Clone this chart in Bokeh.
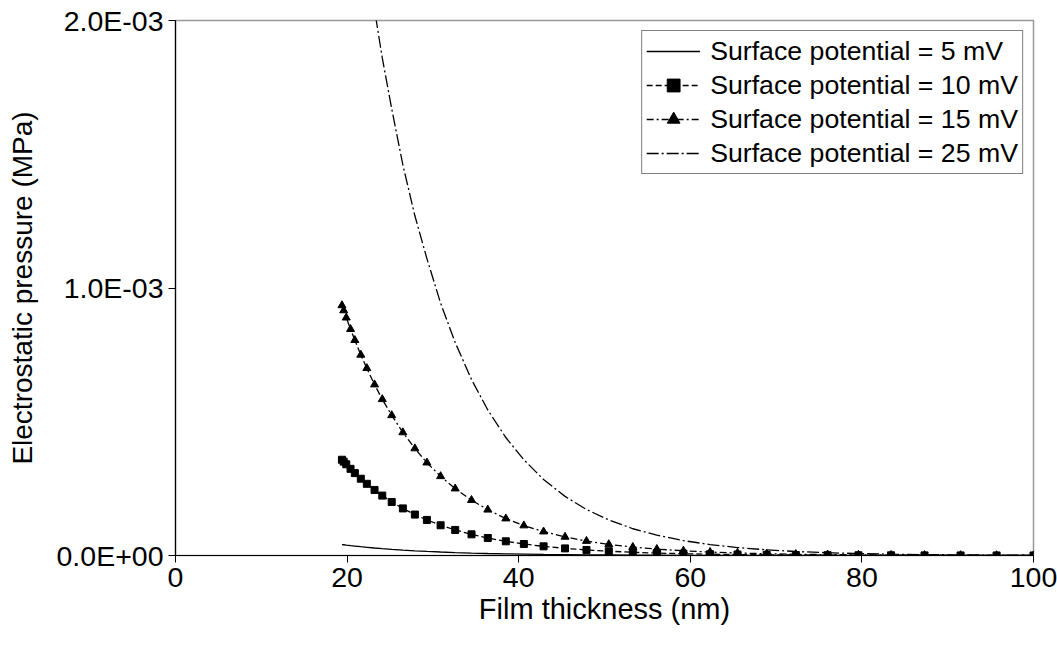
from bokeh.plotting import figure
from bokeh.models import Range1d, FixedTicker, CustomJSTickFormatter, Legend, LegendItem
from bokeh.embed import file_html
from bokeh.resources import INLINE

# ---- data ----
thickness = [19.4, 19.6, 19.9, 20.4, 20.9, 21.6, 22.3, 23.2, 24.1, 25.2, 26.5, 27.9, 29.3,
             30.9, 32.6, 34.5, 36.4, 38.5, 40.6, 42.9, 45.4, 47.9, 50.5, 53.3, 56.1, 59.2,
             62.3, 65.5, 68.9, 72.3, 76.0, 79.6, 83.4, 87.3, 91.5, 95.7, 100.0]

p_5mV = [4.10e-5, 4.02e-5, 3.90e-5, 3.71e-5, 3.53e-5, 3.29e-5, 3.07e-5, 2.80e-5, 2.56e-5,
         2.30e-5, 2.02e-5, 1.75e-5, 1.52e-5, 1.30e-5, 1.10e-5, 9.06e-6, 7.49e-6, 6.07e-6,
         4.92e-6, 3.91e-6, 3.05e-6, 2.37e-6, 1.83e-6, 1.38e-6, 1.05e-6, 7.7e-7, 5.6e-7,
         4.1e-7, 2.9e-7, 2.1e-7, 1.4e-7, 1.0e-7, 7e-8, 5e-8, 3e-8, 2e-8, 1e-8]

p_10mV = [3.58e-4, 3.51e-4, 3.41e-4, 3.24e-4, 3.08e-4, 2.87e-4, 2.68e-4, 2.45e-4, 2.24e-4,
          2.00e-4, 1.76e-4, 1.53e-4, 1.33e-4, 1.13e-4, 9.56e-5, 7.91e-5, 6.54e-5, 5.30e-5,
          4.30e-5, 3.42e-5, 2.66e-5, 2.07e-5, 1.60e-5, 1.21e-5, 9.13e-6, 6.69e-6, 4.90e-6,
          3.58e-6, 2.53e-6, 1.80e-6, 1.25e-6, 8.7e-7, 5.9e-7, 4.0e-7, 2.6e-7, 1.8e-7, 1.1e-7]

p_15mV = [9.35e-4, 9.16e-4, 8.89e-4, 8.46e-4, 8.05e-4, 7.50e-4, 7.00e-4, 6.39e-4, 5.84e-4,
          5.24e-4, 4.60e-4, 4.00e-4, 3.47e-4, 2.96e-4, 2.50e-4, 2.07e-4, 1.71e-4, 1.38e-4,
          1.12e-4, 8.92e-5, 6.95e-5, 5.40e-5, 4.17e-5, 3.15e-5, 2.38e-5, 1.75e-5, 1.28e-5,
          9.35e-6, 6.62e-6, 4.71e-6, 3.26e-6, 2.27e-6, 1.55e-6, 1.06e-6, 6.9e-7, 4.6e-7, 3.0e-7]

p_25mV = [2.98e-3, 2.92e-3, 2.83e-3, 2.70e-3, 2.56e-3, 2.39e-3, 2.23e-3, 2.04e-3, 1.86e-3,
          1.67e-3, 1.46e-3, 1.27e-3, 1.11e-3, 9.43e-4, 7.96e-4, 6.58e-4, 5.44e-4, 4.41e-4,
          3.58e-4, 2.84e-4, 2.21e-4, 1.72e-4, 1.33e-4, 1.00e-4, 7.60e-5, 5.57e-5, 4.08e-5,
          2.98e-5, 2.11e-5, 1.50e-5, 1.04e-5, 7.2e-6, 4.9e-6, 3.4e-6, 2.2e-6, 1.5e-6, 9.5e-7]

series_labels = ["Surface potential = 5 mV", "Surface potential = 10 mV",
                 "Surface potential = 15 mV", "Surface potential = 25 mV"]

x_ticks = [0, 20, 40, 60, 80, 100]
y_ticks = [0.0, 0.001, 0.002]
y_tick_labels = ["0.0E+00", "1.0E-03", "2.0E-03"]

x_title = "Film thickness (nm)"
y_title = "Electrostatic pressure (MPa)"

# ---- figure ----
FONT = "Liberation Sans"

p = figure(width=1057, height=648, output_backend="svg", toolbar_location=None,
           x_range=Range1d(0, 100), y_range=Range1d(0, 0.002),
           frame_width=858, frame_height=535,
           min_border_left=175, min_border_right=24, min_border_top=20, min_border_bottom=93)
p.background_fill_color = "white"
p.border_fill_color = "white"
p.outline_line_color = "#999999"
p.outline_line_width = 1.5
p.grid.visible = False

for ax in (p.xaxis[0], p.yaxis[0]):
    ax.axis_line_color = "black"
    ax.axis_line_width = 1.2
    ax.major_tick_line_color = "black"
    ax.major_tick_out = 7
    ax.major_tick_in = 0
    ax.minor_tick_line_color = None
    ax.major_label_text_font = FONT
    ax.major_label_text_font_size = "28.5px"
    ax.major_label_text_color = "black"
    ax.axis_label_text_font = FONT
    ax.axis_label_text_font_style = "normal"
    ax.axis_label_text_color = "black"

p.xaxis.axis_label_text_font_size = "29px"
p.yaxis.axis_label_text_font_size = "28px"

p.xaxis.ticker = FixedTicker(ticks=x_ticks)
p.yaxis.ticker = FixedTicker(ticks=y_ticks)
p.yaxis.formatter = CustomJSTickFormatter(
    args=dict(tvals=y_ticks, tlabels=y_tick_labels),
    code="const i = tvals.findIndex(t => Math.abs(t - tick) < 1e-12); return i >= 0 ? tlabels[i] : '';")
p.xaxis.major_label_standoff = 5
p.yaxis.major_label_standoff = 5
p.xaxis.axis_label = x_title
p.yaxis.axis_label = y_title
p.xaxis.axis_label_standoff = 3
p.yaxis.axis_label_standoff = 16

r5 = p.line(thickness, p_5mV, line_color="black", line_width=1.3)
r10 = p.line(thickness, p_10mV, line_color="black", line_width=1.3, line_dash="6 3")
m10 = p.scatter(thickness, p_10mV, marker="square", size=7, fill_color="black", line_color="black")
r15 = p.line(thickness, p_15mV, line_color="black", line_width=1.3, line_dash="7 3 2 3")
m15 = p.scatter(thickness, p_15mV, marker="triangle", size=8, fill_color="black", line_color="black")
r25 = p.line(thickness, p_25mV, line_color="black", line_width=1.3, line_dash="12 3 2 3")

legend = Legend(items=[
    LegendItem(label=series_labels[0], renderers=[r5]),
    LegendItem(label=series_labels[1], renderers=[r10, m10]),
    LegendItem(label=series_labels[2], renderers=[r15, m15]),
    LegendItem(label=series_labels[3], renderers=[r25]),
], location="top_right")
legend.label_text_font = FONT
legend.label_text_font_size = "26.7px"
legend.label_text_color = "black"
legend.border_line_color = "black"
legend.border_line_width = 1.2
legend.background_fill_color = "white"
legend.background_fill_alpha = 1.0
legend.glyph_width = 54
legend.glyph_height = 32
legend.spacing = 2
legend.padding = 4
legend.margin = 10
legend.label_standoff = 10
p.add_layout(legend)

open("out.html", "w").write(file_html(p, INLINE))
